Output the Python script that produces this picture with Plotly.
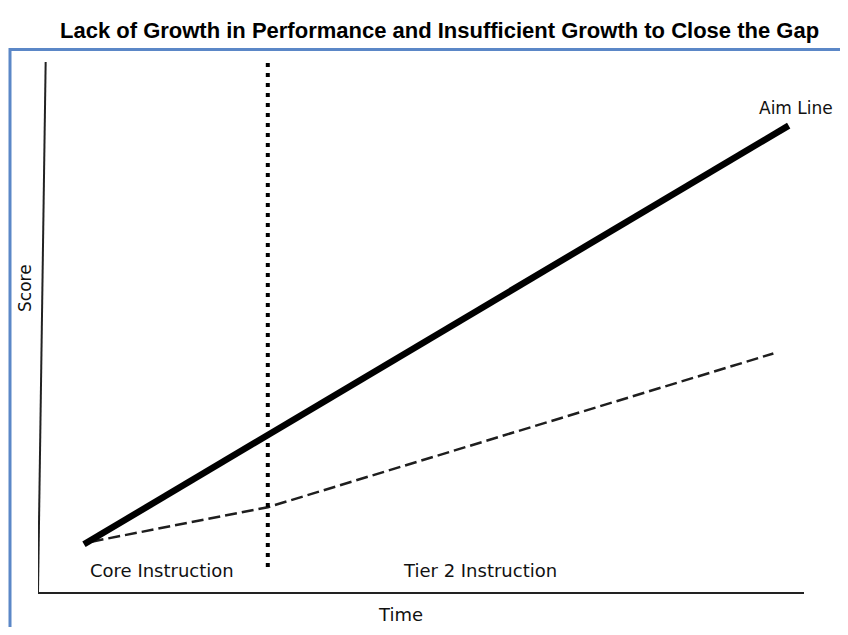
import plotly.graph_objects as go

# ---- data (arbitrary time / score units) ----
aim_time = [0.6, 9.8]
aim_score = [0.9, 8.8]

student_time = [0.7, 3.0, 9.6]
student_score = [0.95, 1.6, 4.5]

phase_change_time = 3.0
phase_line_bottom = 0.47
phase_labels = ["Core Instruction", "Tier 2 Instruction"]
phase_label_time = [1.62, 5.77]

title_text = "Lack of Growth in Performance and Insufficient Growth to Close the Gap"

# page has an 8px body margin; figure sized to fit the 848x635 window
OFF = 8
W, H = 848 - 2 * OFF, 635 - 2 * OFF
# plot area in screen pixels: x 38..804, y 62..592
ML, MR, MT, MB = 38 - OFF, W - (804 - OFF), 62 - OFF, H - (592 - OFF)
PW, PH = W - ML - MR, H - MT - MB


def sx(px):
    """screen x pixel -> paper"""
    return (px - OFF - ML) / PW


def sy(py):
    """screen y pixel -> paper"""
    return (H - MB - (py - OFF)) / PH


fig = go.Figure()

fig.add_trace(go.Scatter(
    x=student_time, y=student_score, mode="lines",
    line=dict(color="#1e1e1e", width=2.5, dash="12px,5px"),
    hoverinfo="skip", showlegend=False,
))
fig.add_trace(go.Scatter(
    x=aim_time, y=aim_score, mode="lines",
    line=dict(color="black", width=6.5),
    hoverinfo="skip", showlegend=False,
))

shapes = [
    # blue frame (left and top edges visible)
    dict(type="rect", xref="paper", yref="paper",
         x0=sx(10), x1=sx(960), y0=sy(760), y1=sy(49.5),
         line=dict(color="#5B87C7", width=3), layer="below"),
    # hand-drawn y axis (slightly slanted)
    dict(type="line", xref="x", yref="y", x0=0, y0=0, x1=0.1, y1=10,
         line=dict(color="#222222", width=2)),
    # phase-change line
    dict(type="line", xref="x", yref="y",
         x0=phase_change_time, x1=phase_change_time,
         y0=phase_line_bottom, y1=10,
         line=dict(color="black", width=4, dash="4px,6px")),
]

font_title = "Liberation Sans, Arial, sans-serif"
font_body = "DejaVu Sans, Verdana, sans-serif"
annotations = [
    dict(text=title_text, xref="paper", yref="paper",
         x=sx(440), y=sy(30),
         showarrow=False, xanchor="center", yanchor="middle",
         font=dict(family=font_title, size=22, color="black", weight="bold")),
    dict(text="Aim Line", xref="x", yref="y", x=9.9, y=9.13,
         showarrow=False, xanchor="center", yanchor="middle",
         font=dict(family=font_body, size=17, color="#111111")),
    dict(text="Time", xref="paper", yref="paper",
         x=sx(400), y=sy(614),
         showarrow=False, xanchor="center", yanchor="middle",
         font=dict(family=font_body, size=18, color="#111111")),
    dict(text="Score", xref="paper", yref="paper",
         x=sx(25), y=sy(288), textangle=-90,
         showarrow=False, xanchor="center", yanchor="middle",
         font=dict(family=font_body, size=17, color="#111111")),
]
for lbl, t in zip(phase_labels, phase_label_time):
    annotations.append(dict(
        text=lbl, xref="x", yref="y", x=t, y=0.4,
        showarrow=False, xanchor="center", yanchor="middle",
        font=dict(family=font_body, size=18, color="#111111")))

fig.update_layout(
    width=W, height=H,
    margin=dict(l=ML, r=MR, t=MT, b=MB),
    paper_bgcolor="white", plot_bgcolor="white",
    shapes=shapes, annotations=annotations,
    xaxis=dict(range=[0, 10], showgrid=False, zeroline=False,
               showticklabels=False, ticks="",
               showline=True, linecolor="#222222", linewidth=2),
    yaxis=dict(range=[0, 10], showgrid=False, zeroline=False,
               showticklabels=False, ticks="", showline=False),
)

fig.write_html("out.html")
